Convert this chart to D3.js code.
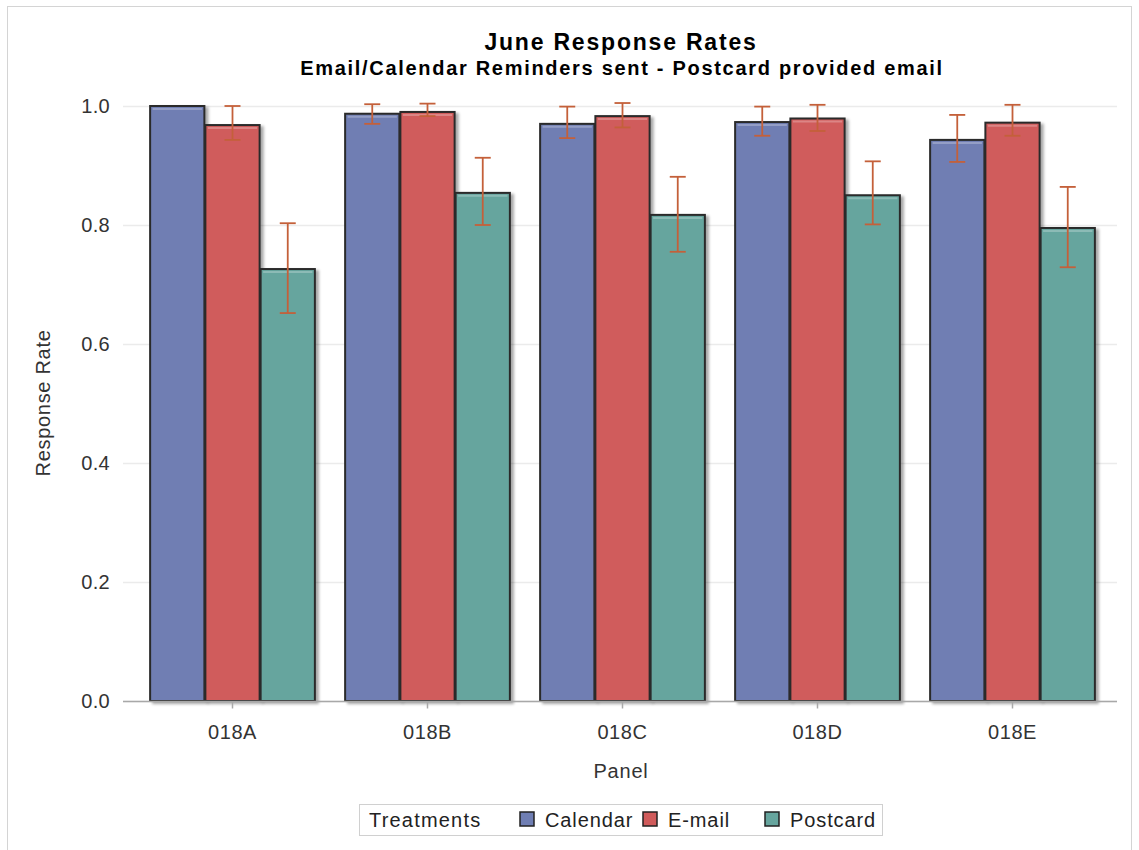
<!DOCTYPE html>
<html>
<head>
<meta charset="utf-8">
<script src="https://cdn.jsdelivr.net/npm/d3@7"></script>
<style>
  html, body { margin: 0; padding: 0; background: #fff; }
  svg { display: block; font-family: "Liberation Sans", Arial, sans-serif; }
</style>
</head>
<body>
<svg id="chart" width="1139" height="850"></svg>
<script>
// Panels and treatments
const panels = ["018A", "018B", "018C", "018D", "018E"];
const treatments = ["Calendar", "E-mail", "Postcard"];

// Response rates per treatment, one value per panel
const calendarRate = [1.000, 0.987, 0.970, 0.973, 0.943];
const emailRate    = [0.968, 0.990, 0.983, 0.979, 0.972];
const postcardRate = [0.726, 0.854, 0.817, 0.850, 0.795];

// Confidence limits (lower / upper); null where no interval is shown
const calendarLow  = [null, 0.970, 0.946, 0.950, 0.906];
const calendarHigh = [null, 1.003, 0.999, 0.999, 0.985];
const emailLow     = [0.943, 0.983, 0.964, 0.958, 0.950];
const emailHigh    = [1.000, 1.004, 1.005, 1.002, 1.002];
const postcardLow  = [0.652, 0.800, 0.755, 0.801, 0.729];
const postcardHigh = [0.803, 0.913, 0.881, 0.907, 0.864];

const yTicks = [0.0, 0.2, 0.4, 0.6, 0.8, 1.0];
const colors = ["#6f7eb3", "#d05b5b", "#66a59e"];

const rates = [calendarRate, emailRate, postcardRate];
const lows = [calendarLow, emailLow, postcardLow];
const highs = [calendarHigh, emailHigh, postcardHigh];

const rows = [];
panels.forEach((p, i) => {
  treatments.forEach((t, j) => {
    rows.push({ panel: p, treatment: t, value: rates[j][i], low: lows[j][i], high: highs[j][i], k: j });
  });
});

const FONT = "Liberation Sans, Arial, sans-serif";
const svg = d3.select("#chart");

// Outer frame
svg.append("rect")
  .attr("x", 7.5).attr("y", 6.5).attr("width", 1124).attr("height", 860)
  .attr("fill", "none").attr("stroke", "#d4d4d4");

const plotLeft = 123, plotRight = 1117, plotBottom = 701;

const x0 = d3.scaleBand().domain(panels).range([135, 1110]).paddingInner(0.15).paddingOuter(0.075);
const x1 = d3.scaleBand().domain(treatments).range([0, x0.bandwidth()]).padding(0);
const y = d3.scaleLinear().domain([0, 1]).range([plotBottom, 106]);

const defs = svg.append("defs");
const shadow = defs.append("filter").attr("id", "shadow")
  .attr("x", "-20%").attr("y", "-20%").attr("width", "140%").attr("height", "140%");
shadow.append("feGaussianBlur").attr("in", "SourceAlpha").attr("stdDeviation", 1.5).attr("result", "b");
shadow.append("feOffset").attr("dx", 3).attr("dy", 2).attr("result", "o");
shadow.append("feComponentTransfer").append("feFuncA").attr("type", "linear").attr("slope", 0.35);
const merge = shadow.append("feMerge");
merge.append("feMergeNode");
merge.append("feMergeNode").attr("in", "SourceGraphic");

// Gridlines
svg.append("g").selectAll("line").data(yTicks).join("line")
  .attr("x1", plotLeft).attr("x2", plotRight)
  .attr("y1", d => Math.round(y(d)) + 0.5).attr("y2", d => Math.round(y(d)) + 0.5)
  .attr("stroke", "#ebebeb").attr("stroke-width", 1.5);

// Y axis labels
const yAxis = d3.axisLeft(y).tickValues(yTicks).tickFormat(d3.format(".1f")).tickSize(0).tickPadding(13);
const gy = svg.append("g").attr("transform", `translate(${plotLeft},0)`).call(yAxis);
gy.select(".domain").remove();
gy.selectAll("text").attr("font-size", 20).attr("letter-spacing", 0.3)
  .attr("fill", "#333").attr("font-family", FONT);

// Bars
const bars = svg.append("g");
bars.selectAll("rect").data(rows).join("rect")
  .attr("x", d => x0(d.panel) + x1(d.treatment) + 0.5)
  .attr("y", d => y(d.value))
  .attr("width", x1.bandwidth() - 1)
  .attr("height", d => y(0) - y(d.value))
  .attr("fill", d => colors[d.k])
  .attr("stroke", "#2a2a2a")
  .attr("stroke-width", 2)
  .attr("filter", "url(#shadow)");

// Top highlight inside each bar
bars.selectAll("line.hl").data(rows).join("line")
  .attr("class", "hl")
  .attr("x1", d => x0(d.panel) + x1(d.treatment) + 3)
  .attr("x2", d => x0(d.panel) + x1(d.treatment) + x1.bandwidth() - 3)
  .attr("y1", d => y(d.value) + 3).attr("y2", d => y(d.value) + 3)
  .attr("stroke", "#ffffff").attr("stroke-opacity", 0.25).attr("stroke-width", 2);

// Error bars
const errs = rows.filter(d => d.low !== null);
const eg = svg.append("g").attr("stroke", "#c4603a").attr("stroke-width", 1.8).attr("fill", "none");
const cx = d => x0(d.panel) + x1(d.treatment) + x1.bandwidth() / 2;
eg.selectAll("line.v").data(errs).join("line").attr("class", "v")
  .attr("x1", cx).attr("x2", cx).attr("y1", d => y(d.low)).attr("y2", d => y(d.high));
eg.selectAll("line.t").data(errs).join("line").attr("class", "t")
  .attr("x1", d => cx(d) - 8).attr("x2", d => cx(d) + 8).attr("y1", d => y(d.high)).attr("y2", d => y(d.high));
eg.selectAll("line.b").data(errs).join("line").attr("class", "b")
  .attr("x1", d => cx(d) - 8).attr("x2", d => cx(d) + 8).attr("y1", d => y(d.low)).attr("y2", d => y(d.low));

// X axis
const xAxis = d3.axisBottom(x0).tickSize(7).tickPadding(16);
const gx = svg.append("g").attr("transform", `translate(0,${plotBottom + 0.5})`).call(xAxis);
gx.select(".domain").remove();
gx.append("line").attr("x1", plotLeft).attr("x2", plotRight).attr("y1", 0).attr("y2", 0)
  .attr("stroke", "#a8a8a8").attr("stroke-width", 1.5);
gx.selectAll(".tick line").attr("stroke", "#a8a8a8").attr("stroke-width", 1.5);
gx.selectAll("text").attr("font-size", 20).attr("letter-spacing", 0.6)
  .attr("fill", "#333").attr("font-family", FONT);

// Axis titles
svg.append("text").attr("x", 621).attr("y", 778).attr("text-anchor", "middle")
  .attr("font-size", 20).attr("letter-spacing", 0.8).attr("fill", "#333").text("Panel");
svg.append("text").attr("transform", "translate(50,403) rotate(-90)").attr("text-anchor", "middle")
  .attr("font-size", 20).attr("letter-spacing", 0.7).attr("fill", "#333").text("Response Rate");

// Titles
svg.append("text").attr("x", 621).attr("y", 50).attr("text-anchor", "middle")
  .attr("font-size", 23).attr("font-weight", "bold").attr("letter-spacing", 1.8)
  .attr("fill", "#000").text("June Response Rates");
svg.append("text").attr("x", 622).attr("y", 75).attr("text-anchor", "middle")
  .attr("font-size", 20).attr("font-weight", "bold").attr("letter-spacing", 1.7)
  .attr("fill", "#000").text("Email/Calendar Reminders sent - Postcard provided email");

// Legend
const lg = svg.append("g");
lg.append("rect").attr("x", 359.5).attr("y", 804.5).attr("width", 523).attr("height", 31)
  .attr("fill", "#fff").attr("stroke", "#d0d0d0");
lg.append("text").attr("x", 369).attr("y", 827).attr("font-size", 20).attr("letter-spacing", 1.2)
  .attr("fill", "#222").text("Treatments");
const legendX = [520, 643, 765];
treatments.forEach((t, i) => {
  lg.append("rect").attr("x", legendX[i]).attr("y", 812).attr("width", 14).attr("height", 14)
    .attr("fill", colors[i]).attr("stroke", "#222").attr("stroke-width", 1.5);
  lg.append("text").attr("x", legendX[i] + 25).attr("y", 827).attr("font-size", 20).attr("letter-spacing", 0.9)
    .attr("fill", "#222").text(t);
});
</script>
</body>
</html>
